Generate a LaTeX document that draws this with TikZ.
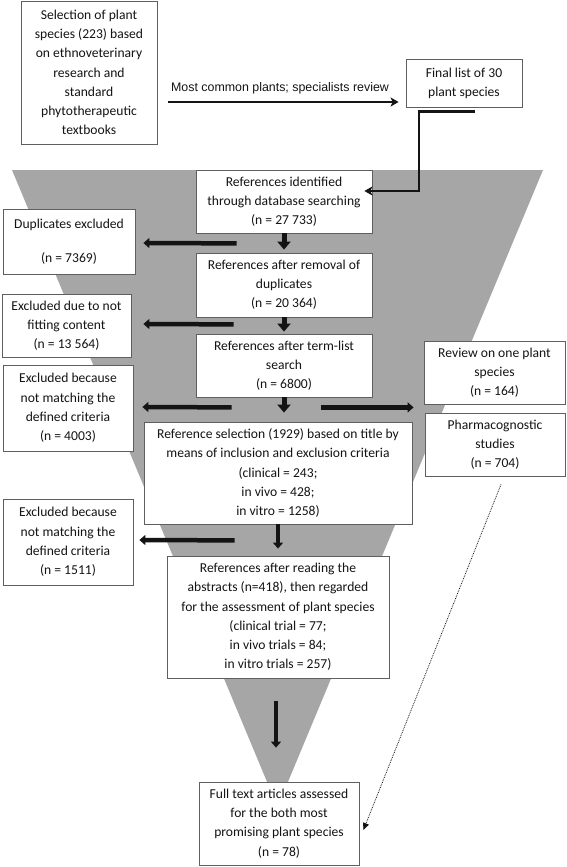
\documentclass[tikz,border=0pt]{standalone}
\usepackage{fontspec}
\setmainfont{Carlito}
\newfontfamily\arialfont{Liberation Sans}
\usetikzlibrary{arrows.meta,calc}
\definecolor{funnel}{RGB}{166,166,166}
\definecolor{boxline}{RGB}{95,95,95}
\definecolor{ink}{RGB}{20,20,20}
\begin{document}
\begin{tikzpicture}[x=1pt,y=-1pt,
  box/.style={draw=boxline, line width=0.8pt, fill=white, align=center, inner sep=2pt, text=ink,
    font=\fontsize{13.6}{19.2}\selectfont},
  harr/.style={draw=ink, line width=4.5pt, -{Triangle[length=6pt,width=10pt]}},
  varr/.style={draw=ink, line width=5pt, -{Triangle[length=8pt,width=13pt]}},
  tarr/.style={draw=ink, line width=3.5pt, -{Triangle[length=6pt,width=10pt]}},
  elb/.style={draw=ink, line width=2.4pt, -{Stealth[length=8pt,width=9pt,inset=2pt]}},
  dotarr/.style={draw=ink, line width=0.8pt, densely dotted, -{Triangle[length=7pt,width=6pt]}}]
\fill[white] (0,0) rectangle (567,867);
\useasboundingbox (0,0) rectangle (567,867);
% funnel
\fill[funnel] (12,170) -- (543,170) -- (277.5,807) -- cycle;
% boxes
\node[box, minimum width=136pt, minimum height=143pt] (sel) at (89,72.5)
  {Selection of plant\\species (223) based\\on ethnoveterinary\\research and\\standard\\phytotherapeutic\\textbooks};
\node[box, minimum width=116pt, minimum height=48pt] (fin) at (464,83)
  {Final list of 30\\plant species};
\node[box, minimum width=176pt, minimum height=63pt] (r1) at (284,201.5)
  {References identified\\through database searching\\(n = 27 733)};
\node[box, minimum width=132pt, minimum height=65pt] (dup) at (69,241.5)
  {Duplicates excluded\\[14.8pt](n = 7369)};
\node[box, minimum width=176pt, minimum height=64pt] (r2) at (284,285)
  {References after removal of\\duplicates\\(n = 20 364)};
\node[box, minimum width=129pt, minimum height=63pt] (exa) at (66.5,325.5)
  {Excluded due to not\\fitting content\\(n = 13 564)};
\node[box, minimum width=176pt, minimum height=63pt] (r3) at (284,365.5)
  {References after term-list\\search\\(n = 6800)};
\node[box, minimum width=130pt, minimum height=86pt] (exb) at (68,408)
  {Excluded because\\not matching the\\defined criteria\\(n = 4003)};
\node[box, minimum width=141pt, minimum height=63pt] (rev) at (494.5,372.5)
  {Review on one plant\\species\\(n = 164)};
\node[box, minimum width=140pt, minimum height=63pt] (pha) at (495,444.5)
  {Pharmacognostic\\studies\\(n = 704)};
\node[box, minimum width=268pt, minimum height=102pt] (r4) at (278,473)
  {Reference selection (1929) based on title by\\means of inclusion and exclusion criteria\\(clinical = 243;\\in vivo = 428;\\in vitro = 1258)};
\node[box, minimum width=130pt, minimum height=86pt] (exc) at (68,542)
  {Excluded because\\not matching the\\defined criteria\\(n = 1511)};
\node[box, minimum width=222pt, minimum height=122pt] (r5) at (278,617)
  {References after reading the\\abstracts (n=418), then regarded\\for the assessment of plant species\\(clinical trial = 77;\\in vivo trials = 84;\\in vitro trials = 257)};
\node[box, minimum width=160pt, minimum height=83pt] (full) at (279,823.5)
  {Full text articles assessed\\for the both most\\promising plant species\\(n = 78)};
% top arrow with label
\draw[elb] ([shift={(11,29.5)}]sel.east) -- ([shift={(-7,19)}]fin.west);
\node[font=\arialfont\fontsize{12.4}{14}\selectfont, text=ink, anchor=base] (lbl) at (280,91)
  {Most common plants; specialists review};
% elbow connector
\draw[elb] ([shift={(11,4)}]fin.south) -- ++(-56,0) |- ([shift={(-8,-10.5)}]r1.east);
% down arrows
\draw[varr] (r1.south) -- ([shift={(0,-3)}]r2.north);
\draw[varr] (r2.south) -- ([shift={(0,-2)}]r3.north);
\draw[varr] (r3.south) -- ([shift={(0,-9)}]r3.south |- r4.north);
\draw[tarr] (r4.south) -- ([shift={(0,-7)}]r5.north);
\draw[tarr] ([shift={(-2,23)}]r5.south) -- ([shift={(-3,-34)}]full.north);
% side arrows
\draw[harr] ([shift={(41,10)}]r1.south west) -- ([shift={(8,1.5)}]dup.east);
\draw[harr] ([shift={(38,7)}]r2.south west) -- ([shift={(12,-1.5)}]exa.east);
\draw[harr] ([shift={(36,10)}]r3.south west) -- ([shift={(9,-1)}]exb.east);
\draw[harr] ([shift={(-51,10)}]r3.south east) -- ([shift={(-10,3)}]rev.south west);
\draw[harr] ([shift={(91,16)}]r4.south west) -- ([shift={(6,-2)}]exc.east);
% dotted arrow
\draw[dotarr] ([shift={(6,8)}]pha.south) -- ([shift={(4,6.5)}]full.east);
\end{tikzpicture}
\end{document}
